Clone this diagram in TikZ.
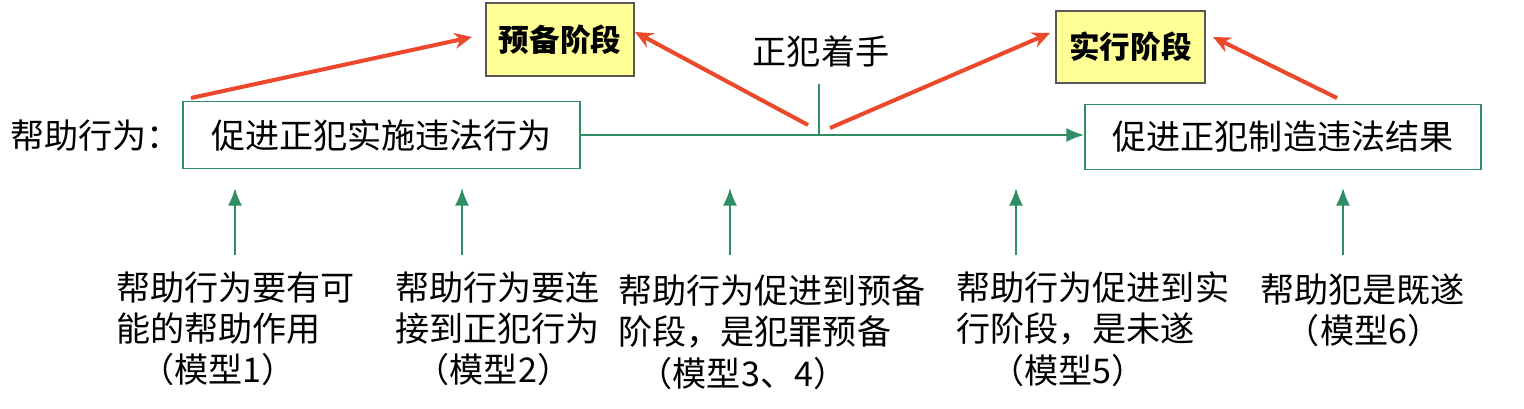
\documentclass[tikz,border=0pt]{standalone}
\usepackage{fontspec}
\newfontfamily\cjk{Noto Sans CJK SC}
\usepackage{xcolor}
\usetikzlibrary{arrows.meta, positioning}

\definecolor{linegreen}{RGB}{48,142,100}
\definecolor{arrowred}{RGB}{236,72,44}
\definecolor{stageyellow}{RGB}{255,255,150}

\tikzset{
  txt/.style={font=\cjk\fontsize{19.4pt}{23.6pt}\selectfont, inner sep=0pt},
  greenbox/.style={txt, draw=linegreen, line width=1.1pt},
  stagebox/.style={draw=black!65, fill=stageyellow, line width=0.8pt,
    font=\cjk\bfseries\fontsize{17.4pt}{20pt}\selectfont},
  redarrow/.style={draw=arrowred, line width=2.3pt, -{Stealth[length=10pt, width=9pt]}},
  greenarrow/.style={draw=linegreen, line width=1.1pt, -{Latex[length=10pt, width=8pt]}},
}

\begin{document}
\begin{tikzpicture}
    \useasboundingbox (0,0) rectangle (30.48,8.16);

    % Hàng giữa
    \node[txt, anchor=west] (help) at (0.2,5.44) {帮助行为：};
    \node[greenbox, minimum width=7.94cm, minimum height=1.34cm] (act) at (7.63,5.46) {促进正犯实施违法行为};
    \node[greenbox, minimum width=7.92cm, minimum height=1.30cm] (result) at (25.66,5.42) {促进正犯制造违法结果};
    \draw[greenarrow] (act.east) -- (act.east -| result.west);

    % Mốc "正犯着手"
    \coordinate (onset) at (16.38,6.48);
    \draw[linegreen, line width=1.1pt] (onset) -- (onset |- act.east);
    \node[txt] (onsetlabel) at (16.42,7.14) {正犯着手};

    % Hai giai đoạn
    \node[stagebox, minimum width=2.96cm, minimum height=1.46cm] (prep) at (11.2,7.37) {预备阶段};
    \node[stagebox, minimum width=2.98cm, minimum height=1.44cm] (exec) at (22.61,7.22) {实行阶段};

    % Mũi tên đỏ
    \coordinate (ra) at (3.82,6.2);
    \coordinate (rb) at (16.16,5.66);
    \coordinate (rc) at (16.6,5.6);
    \coordinate (rd) at (26.74,6.2);
    \coordinate (ta) at (9.44,7.42);
    \coordinate (tb) at (12.7,7.52);
    \coordinate (tc) at (21.0,7.5);
    \coordinate (td) at (24.26,7.42);
    \draw[redarrow] (ra) -- (ta);
    \draw[redarrow] (rb) -- (tb);
    \draw[redarrow] (rc) -- (tc);
    \draw[redarrow] (rd) -- (td);

    % Mũi tên xanh hướng lên
    \foreach \x [count=\i] in {4.7,9.24,14.6,20.32,26.86} {
        \coordinate (foot\i) at (\x,3.06);
        \draw[greenarrow] (foot\i) -- ++(0,1.34);
    }

    % Chú thích phía dưới
    \node[txt, align=left, anchor=north west] (m1) at (2.32,2.74)
        {帮助行为要有可\\能的帮助作用\\\hspace*{0.7em}（模型1）};
    \node[txt, align=left, anchor=north west] (m2) at (7.9,2.74)
        {帮助行为要连\\接到正犯行为\\\hspace*{0.6em}（模型2）};
    \node[txt, align=left, anchor=north west] (m3) at (12.36,2.68)
        {帮助行为促进到预备\\阶段，是犯罪预备\\\hspace*{0.6em}（模型3、4）};
    \node[txt, align=left, anchor=north west] (m4) at (19.12,2.74)
        {帮助行为促进到实\\行阶段，是未遂\\\hspace*{1em}（模型5）};
    \node[txt, align=left, anchor=north west] (m5) at (25.2,2.70)
        {帮助犯是既遂\\\hspace*{0.75em}（模型6）};
\end{tikzpicture}
\end{document}
